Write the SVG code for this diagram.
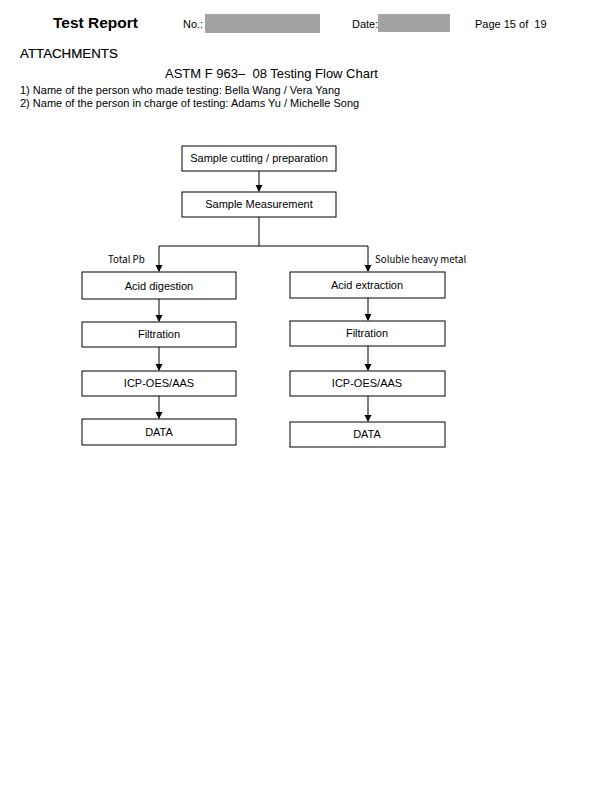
<svg xmlns="http://www.w3.org/2000/svg" width="600" height="808" viewBox="0 0 600 808">
<style>
text{font-family:"Liberation Sans",Arial,sans-serif;fill:#000;white-space:pre}
.box rect{fill:#fff;stroke:#000;stroke-width:1}
.box text{font-size:11px;text-anchor:middle}
.conn line,.conn polyline{stroke:#000;stroke-width:1;fill:none}
.lbl{font-family:"Noto Sans CJK JP","Liberation Sans",sans-serif;font-size:9.7px}
.red{fill:#a3a3a3}
</style>
<defs>
<marker id="ah" markerWidth="7" markerHeight="8" refX="6" refY="3.5" orient="auto" markerUnits="userSpaceOnUse">
<path d="M0,0 L7,3.5 L0,7 Z" fill="#000"/>
</marker>
</defs>
<rect width="600" height="808" fill="#fff"/>
<g id="header">
<text x="53" y="28" font-size="15.5" font-weight="bold">Test Report</text>
<text x="183" y="28" font-size="11">No.:</text>
<rect class="red" x="205" y="14" width="115" height="19"/>
<text x="352" y="28" font-size="11">Date:</text>
<rect class="red" x="378" y="14" width="72" height="18"/>
<text x="475" y="28" font-size="11" xml:space="preserve">Page 15 of  19</text>
<text x="20" y="58" font-size="13.3" stroke="#000" stroke-width="0.2">ATTACHMENTS</text>
<text x="165" y="78" font-size="13" xml:space="preserve">ASTM F 963–  08 Testing Flow Chart</text>
<text x="20" y="94" font-size="11">1) Name of the person who made testing: Bella Wang / Vera Yang</text>
<text x="20" y="107" font-size="11">2) Name of the person in charge of testing: Adams Yu / Michelle Song</text>
</g>
<g id="connectors" class="conn">
<line x1="259" y1="171" x2="259" y2="191" marker-end="url(#ah)"/>
<polyline points="259,217 259,246"/>
<line x1="159" y1="246" x2="368" y2="246"/>
<line x1="159" y1="246" x2="159" y2="271" marker-end="url(#ah)"/>
<line x1="368" y1="246" x2="368" y2="271" marker-end="url(#ah)"/>
<line x1="159" y1="299" x2="159" y2="321" marker-end="url(#ah)"/>
<line x1="159" y1="347" x2="159" y2="370" marker-end="url(#ah)"/>
<line x1="159" y1="396" x2="159" y2="418" marker-end="url(#ah)"/>
<line x1="368" y1="298" x2="368" y2="320" marker-end="url(#ah)"/>
<line x1="368" y1="346" x2="368" y2="370" marker-end="url(#ah)"/>
<line x1="368" y1="396" x2="368" y2="421" marker-end="url(#ah)"/>
<text class="lbl" x="108" y="263">Total Pb</text>
<text class="lbl" x="375" y="263">Soluble heavy metal</text>
</g>
<g id="n-cut" class="box"><rect x="182" y="146" width="154" height="25"/><text x="259" y="162">Sample cutting / preparation</text></g>
<g id="n-meas" class="box"><rect x="182" y="192" width="154" height="25"/><text x="259" y="208">Sample Measurement</text></g>
<g id="n-digest" class="box"><rect x="82" y="272" width="154" height="27"/><text x="159" y="290">Acid digestion</text></g>
<g id="n-filt-l" class="box"><rect x="82" y="322" width="154" height="25"/><text x="159" y="338">Filtration</text></g>
<g id="n-icp-l" class="box"><rect x="82" y="371" width="154" height="25"/><text x="159" y="387">ICP-OES/AAS</text></g>
<g id="n-data-l" class="box"><rect x="82" y="419" width="154" height="26"/><text x="159" y="436">DATA</text></g>
<g id="n-extract" class="box"><rect x="290" y="272" width="155" height="26"/><text x="367" y="289">Acid extraction</text></g>
<g id="n-filt-r" class="box"><rect x="290" y="321" width="155" height="25"/><text x="367" y="337">Filtration</text></g>
<g id="n-icp-r" class="box"><rect x="290" y="371" width="155" height="25"/><text x="367" y="387">ICP-OES/AAS</text></g>
<g id="n-data-r" class="box"><rect x="290" y="422" width="155" height="25"/><text x="367" y="438">DATA</text></g>
</svg>
